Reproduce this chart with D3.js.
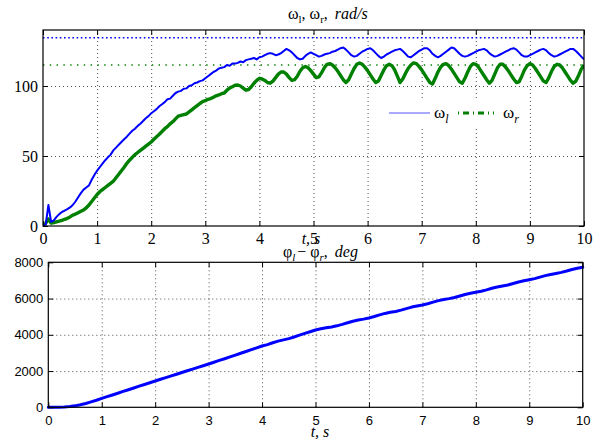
<!DOCTYPE html>
<html><head><meta charset="utf-8">
<script src="https://cdn.jsdelivr.net/npm/d3@7"></script>
<style>
body{margin:0;background:#fff;}
svg{display:block;}
.grid line{stroke:#000;stroke-width:0.7;stroke-dasharray:1,3;}
.grid path{display:none;}
</style></head><body>
<svg id="c" width="603" height="439"></svg>
<script>
// ---------- DATA ----------
const tStep = 0.05;               // omega samples every 0.05 s, t = 0..10
const omegaL = [0,1,15,3,4,6.5,8.5,10,11,12,13.3,15,17.5,20.5,23.5,26,27.5,29,33,36.5,
39.5,42,44.5,47,49,51,54,56,58,60,62,63.8,66,68,69.5,71.5,73,75,77,78.5,
80.5,82,83.5,85.5,87,88.5,90.5,91,93,95,96,96.5,98,98.3,100,100.5,102,102.5,103.5,104,
105.5,107,108.5,110,111,112.5,113,113.5,115,114.5,116,116,116.5,117.5,117,118.5,119,119.5,120,119,
120.5,121,122,123,123.5,123,122,122.5,123.5,125,126.5,125.5,124,122,120,119,119.5,121.5,123,124,
123,122,121,121.5,122.5,123,123.5,124.5,125,126,127,127.5,126,124,122,121,121.5,123,124.5,125.5,
126.5,127,125.5,123.5,121.5,120,121,122.5,123.5,124.5,125.5,126,126.5,125,123,121,120.5,122,123.5,125,
126,127,127,125.5,123,121.5,120.5,121.5,123,124.5,126,127.5,127,125,123,121.5,121,121.5,122.5,123.5,
124.5,125.5,126,126.5,125.5,123.5,122,121,121.5,122.5,123.5,124.5,125.5,126.5,127,126,124,122,121,121,
122,123,124,125,126,126.5,125.5,123.5,122,121,121.5,122.5,123.5,124.5,125.5,126.5,126.5,125,123,121,
119];
const omegaR = [0,2,5,2,2.5,3,3.5,4,4.8,5.5,6.5,7.8,8.5,9.5,10.5,11.5,13,15,17.5,20,
22.5,24.5,26,27.5,29,30.5,32,34.5,37,39.5,42,44.8,47,49,51,52.5,54,55.5,57,58.5,
60,62,63.8,65.5,67.5,69.5,71,73,74.5,76.5,78.5,79,79.5,80,81.5,83,84.5,86,87.5,88.8,
89.5,90.5,91,92,93,93.6,94.5,95,97,98.5,99.5,100.5,100.7,100,98.5,97,97.5,99.5,102,104,
105.5,105,104,102.5,102,103.5,106,108.5,110,110,108.5,106,104,104.5,107,110.5,113,114,113,111,
108.5,106,106.5,109.5,113,115.5,116,115,113,110.5,107.5,104.5,102.5,104.5,108.5,112.5,115.5,116.5,115.5,113.5,
111,108,105,102.5,103.5,107.5,111.5,114.5,115.5,114.5,111.5,107,102.5,105,109,112.5,115,116.5,116,114,
111.5,108.5,105.5,102.5,101.5,105.5,110,113.5,115.5,116,114.5,112,109,106,103,102,105.5,110,114,116,
115.5,113.5,110.5,107.5,104.5,102,104,108.5,113,115.5,115.5,113.5,111,108,105,102.5,103,107,111.5,114.5,
116,115,112.5,109.5,106.5,103.5,102.5,106,110.5,114,115.5,115,113,110,107,104,102,103.5,107.5,112,
115];
const omegaLRef = 134.5;          // dotted reference levels
const omegaRRef = 115;
const phiStep = 0.1;              // phi samples every 0.1 s
const phiDiff = [0,0,5,15,40,80,140,210,300,390,
490,585,680,775,875,970,1065,1165,1260,1355,
1450,1545,1640,1735,1825,1920,2015,2110,2200,2295,
2390,2485,2585,2680,2780,2880,2980,3080,3180,3280,
3380,3460,3560,3650,3720,3790,3880,3980,4080,4170,
4265,4330,4385,4435,4495,4575,4665,4750,4815,4865,
4930,5010,5100,5180,5240,5290,5360,5445,5530,5590,
5645,5715,5800,5885,5945,5995,6060,6140,6225,6290,
6345,6405,6480,6565,6635,6690,6750,6830,6915,6980,
7040,7100,7180,7265,7330,7385,7445,7520,7605,7670,
7724];
const xTicks = [0,1,2,3,4,5,6,7,8,9,10];
const topYTicks = [0,50,100];
const botYTicks = [0,2000,4000,6000,8000];
const legendItems = [{name:"ω", sub:"l"},{name:"ω", sub:"r"}];

// ---------- DRAW ----------
const svg = d3.select("#c");
svg.append("rect").attr("width",603).attr("height",439).attr("fill","#fff");

function panel(cfg){
  const g = svg.append("g");
  const x = d3.scaleLinear().domain([0,10]).range([cfg.l,cfg.r]);
  const y = d3.scaleLinear().domain(cfg.yd).range([cfg.b,cfg.t]);
  g.append("g").attr("class","grid").attr("transform",`translate(0,${cfg.b})`)
    .call(d3.axisBottom(x).tickValues(xTicks.slice(1,-1)).tickSize(-(cfg.b-cfg.t)).tickFormat(""));
  g.append("g").attr("class","grid").attr("transform",`translate(${cfg.l},0)`)
    .call(d3.axisLeft(y).tickValues(cfg.yt.slice(1).filter(v=>y(v)>cfg.t+1)).tickSize(-(cfg.r-cfg.l)).tickFormat(""));
  return {g,x,y};
}
function frame(p,cfg){
  const {g,x,y} = p;
  const font = cfg.font, fs = cfg.fs;
  const ax = g.append("g").attr("transform",`translate(0,${cfg.b})`)
    .call(d3.axisBottom(x).tickValues(xTicks).tickSize(-5).tickPadding(cfg.xpad).tickFormat(d3.format("d")));
  ax.selectAll("text").attr("font-family",font).attr("font-size",fs).attr("fill","#000");
  const axt = g.append("g").attr("transform",`translate(0,${cfg.t})`)
    .call(d3.axisTop(x).tickValues(xTicks).tickSize(-5).tickFormat(""));
  const ay = g.append("g").attr("transform",`translate(${cfg.l},0)`)
    .call(d3.axisLeft(y).tickValues(cfg.yt).tickSize(-5).tickPadding(5).tickFormat(d3.format("d")));
  ay.selectAll("text").attr("font-family",font).attr("font-size",fs).attr("fill","#000");
  const ayr = g.append("g").attr("transform",`translate(${cfg.r},0)`)
    .call(d3.axisRight(y).tickValues(cfg.yt).tickSize(-5).tickFormat(""));
  [ax,axt,ay,ayr].forEach(a=>{a.select(".domain").remove(); a.selectAll("line").attr("stroke","#000").attr("stroke-width",1);});
  g.append("rect").attr("x",cfg.l).attr("y",cfg.t).attr("width",cfg.r-cfg.l).attr("height",cfg.b-cfg.t)
    .attr("fill","none").attr("stroke","#000").attr("stroke-width",1.2);
}

// ----- top panel -----
const topCfg = {l:43,r:584,t:30,b:226,yd:[0,140],yt:topYTicks,font:"Liberation Serif",fs:16,xpad:7};
const P1 = panel(topCfg);
svg.append("clipPath").attr("id","clip1").append("rect")
  .attr("x",topCfg.l).attr("y",topCfg.t).attr("width",topCfg.r-topCfg.l).attr("height",topCfg.b-topCfg.t);
const d1 = P1.g.append("g").attr("clip-path","url(#clip1)");
d1.append("line").attr("x1",P1.x(0)).attr("x2",P1.x(10)).attr("y1",P1.y(omegaLRef)).attr("y2",P1.y(omegaLRef))
  .attr("stroke","#0000ff").attr("stroke-width",1.6).attr("stroke-dasharray","1.6,2.6");
d1.append("line").attr("x1",P1.x(0)).attr("x2",P1.x(10)).attr("y1",P1.y(omegaRRef)).attr("y2",P1.y(omegaRRef))
  .attr("stroke","#008000").attr("stroke-width",1.4).attr("stroke-dasharray","1.4,5.4");
const lineT = d3.line().x((d,i)=>P1.x(i*tStep)).y(d=>P1.y(d));
d1.append("path").attr("d",lineT(omegaR)).attr("fill","none").attr("stroke","#008000")
  .attr("stroke-width",3.4).attr("stroke-linejoin","round");
d1.append("path").attr("d",lineT(omegaL)).attr("fill","none").attr("stroke","#0000ff")
  .attr("stroke-width",2).attr("stroke-linejoin","round");
frame(P1,topCfg);

// legend
const lg = svg.append("g");
lg.append("rect").attr("x",385).attr("y",100).attr("width",142).attr("height",28).attr("fill","#fff");
lg.append("line").attr("x1",389).attr("x2",430).attr("y1",113).attr("y2",113).attr("stroke","#5555ff").attr("stroke-width",1.2);
lg.append("line").attr("x1",458).attr("x2",494).attr("y1",113).attr("y2",113).attr("stroke","#008000")
  .attr("stroke-width",2.8).attr("stroke-dasharray","1,4,6,4");
const lpos = [434,503];
legendItems.forEach((it,i)=>{
  const t = lg.append("text").attr("x",lpos[i]).attr("y",118).attr("font-family","Liberation Serif").attr("font-size",17);
  t.append("tspan").text(it.name);
  t.append("tspan").attr("dy",5).attr("font-size",12).attr("font-style","italic").text(it.sub);
});

// top title
const tt = svg.append("text").attr("x",288).attr("y",18.5).attr("font-family","Liberation Serif").attr("font-size",16);
tt.append("tspan").text("ω");
tt.append("tspan").attr("dy",4).attr("font-size",11).text("l");
tt.append("tspan").attr("dy",-4).text(", ω");
tt.append("tspan").attr("dy",4).attr("font-size",11).text("r");
tt.append("tspan").attr("dy",-4).text(",");
tt.append("tspan").attr("dx",7).attr("font-style","italic").text("rad/s");
// top x label (overlapping tick 5 as in the original)
svg.append("text").attr("x",311).attr("y",243.5).attr("text-anchor","middle").attr("font-family","Liberation Serif")
  .attr("font-style","italic").attr("font-size",16).text("t, s");

// ----- bottom panel -----
const botCfg = {l:48.3,r:582.7,t:262.3,b:407.3,yd:[0,8000],yt:botYTicks,font:"Liberation Sans",fs:13,xpad:8};
const P2 = panel(botCfg);
const lineB = d3.line().x((d,i)=>P2.x(i*phiStep)).y(d=>P2.y(d));
P2.g.append("path").attr("d",lineB(phiDiff)).attr("fill","none").attr("stroke","#0000ff")
  .attr("stroke-width",3).attr("stroke-linejoin","round").attr("stroke-linecap","round");
frame(P2,botCfg);

// bottom title
const bt = svg.append("text").attr("x",283).attr("y",256.5).attr("font-family","Liberation Serif").attr("font-size",16);
bt.append("tspan").text("φ");
bt.append("tspan").attr("dy",4).attr("font-size",11).attr("font-style","italic").text("l");
bt.append("tspan").attr("dy",-4).attr("dx",2).text("− φ");
bt.append("tspan").attr("dy",4).attr("font-size",11).attr("font-style","italic").text("r");
bt.append("tspan").attr("dy",-4).text(",");
bt.append("tspan").attr("dx",7).attr("font-style","italic").text("deg");
// bottom x label
svg.append("text").attr("x",320).attr("y",436.5).attr("text-anchor","middle").attr("font-family","Liberation Serif")
  .attr("font-style","italic").attr("font-size",16).text("t, s");
</script>
</body></html>
